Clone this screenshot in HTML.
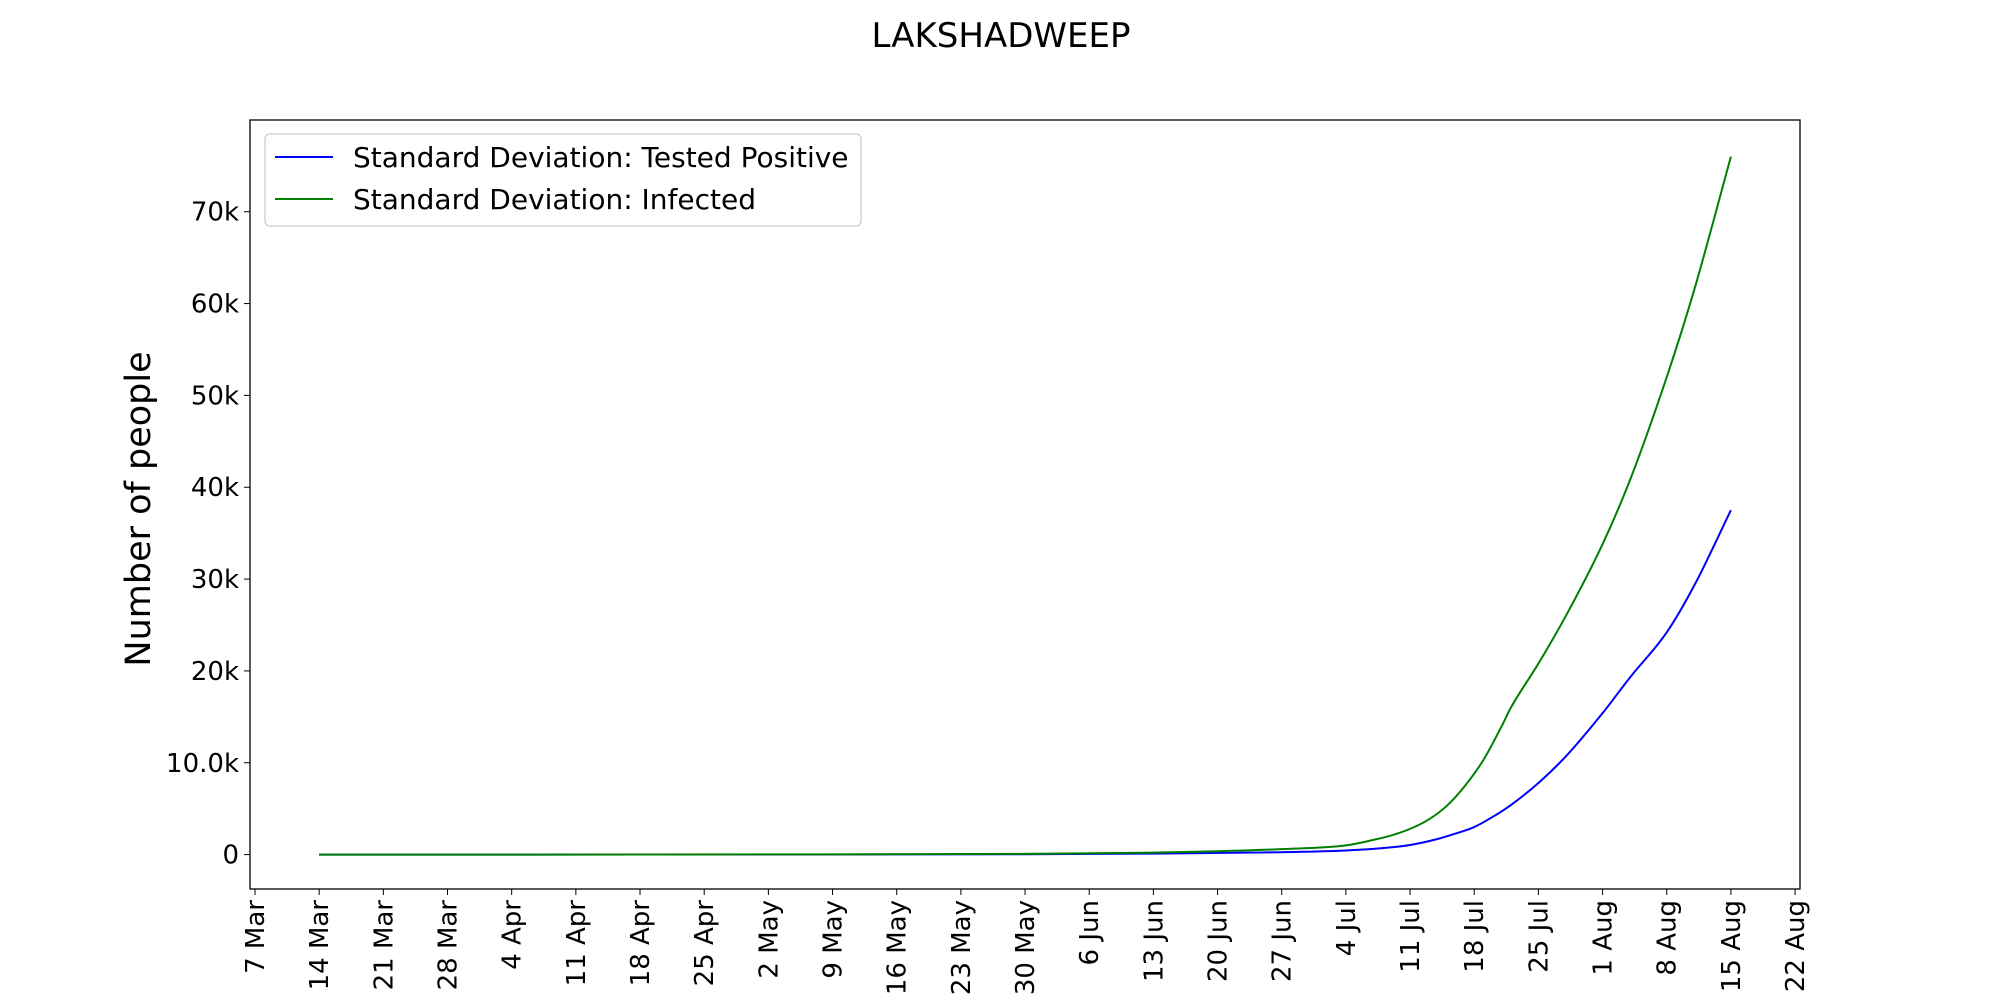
<!DOCTYPE html>
<html><head><meta charset="utf-8"><style>
body{margin:0;background:#fff;}
svg{display:block;font-family:"DejaVu Sans","Liberation Sans",sans-serif;}
</style></head><body>
<svg id="chart" width="2000" height="1000">
<text x="1001" y="47" font-size="34" text-anchor="middle">LAKSHADWEEP</text>
<text transform="translate(150,509) rotate(-90)" font-size="35" text-anchor="middle">Number of people</text>
<g id="ticks"></g>
<g id="lines"></g>
<rect x="250" y="120" width="1550" height="769" fill="none" stroke="#000" stroke-width="1.3"/>
<g>
<rect x="265" y="134" width="596" height="92" rx="5" fill="#fff" stroke="#ccc" stroke-width="1.3"/>
<line x1="275" y1="157" x2="333" y2="157" stroke="#0000ff" stroke-width="2"/>
<text x="353" y="167" font-size="28">Standard Deviation: Tested Positive</text>
<line x1="275" y1="199" x2="333" y2="199" stroke="#008000" stroke-width="2"/>
<text x="353" y="209" font-size="28">Standard Deviation: Infected</text>
</g>
</svg>
<script>
const testedDates = ["2020-03-14","2020-04-04","2020-05-02","2020-05-30","2020-06-13","2020-06-27","2020-07-04","2020-07-08","2020-07-11","2020-07-14","2020-07-16","2020-07-18","2020-07-20","2020-07-22","2020-07-25","2020-07-28","2020-08-01","2020-08-04","2020-08-08","2020-08-11","2020-08-15"];
const testedValues = [0,0,10,40,110,260,450,700,1050,1700,2300,3000,4100,5400,7800,10700,15400,19300,24200,29300,37500];
const infectedDates = ["2020-03-14","2020-04-04","2020-05-02","2020-05-30","2020-06-13","2020-06-20","2020-06-27","2020-07-04","2020-07-07","2020-07-09","2020-07-11","2020-07-13","2020-07-15","2020-07-17","2020-07-19","2020-07-21","2020-07-22","2020-07-25","2020-07-28","2020-08-01","2020-08-04","2020-08-08","2020-08-11","2020-08-15"];
const infectedValues = [0,0,20,80,210,360,600,1000,1600,2100,2800,3800,5300,7500,10300,14000,16000,20800,26000,33800,40800,52000,61500,76000];
const yTicks = [0,10000,20000,30000,40000,50000,60000,70000];
const yTickLabels = ["0","10.0k","20k","30k","40k","50k","60k","70k"];
const xTickLabels = ["7 Mar","14 Mar","21 Mar","28 Mar","4 Apr","11 Apr","18 Apr","25 Apr","2 May","9 May","16 May","23 May","30 May","6 Jun","13 Jun","20 Jun","27 Jun","4 Jul","11 Jul","18 Jul","25 Jul","1 Aug","8 Aug","15 Aug","22 Aug"];

const NS="http://www.w3.org/2000/svg";
const t0=Date.UTC(2020,2,7), DAY=86400000, WEEK=64.17;
function xScale(d){const days=(Date.parse(d+"T00:00:00Z")-t0)/DAY;return 255+days*(WEEK/7);}
function yScale(v){return 854.6-v*(91.84/10000);}
const tg=document.getElementById('ticks');
yTicks.forEach((v,i)=>{
  const y=yScale(v);
  const l=document.createElementNS(NS,'line');
  l.setAttribute('x1',244);l.setAttribute('x2',250);l.setAttribute('y1',y);l.setAttribute('y2',y);l.setAttribute('stroke','#000');
  
  
  tg.appendChild(l);
  const t=document.createElementNS(NS,'text');
  t.setAttribute('x',239);t.setAttribute('y',y+9);t.setAttribute('font-size','26');t.setAttribute('text-anchor','end');
  t.textContent=yTickLabels[i];
  
  
  tg.appendChild(t);
});
xTickLabels.forEach((lab,i)=>{
  const x=255+i*WEEK;
  const l=document.createElementNS(NS,'line');
  l.setAttribute('x1',x);l.setAttribute('x2',x);l.setAttribute('y1',889);l.setAttribute('y2',895);l.setAttribute('stroke','#000');
  
  
  tg.appendChild(l);
  const t=document.createElementNS(NS,'text');
  t.setAttribute('transform',`translate(${x+9},900) rotate(-90)`);
  t.setAttribute('font-size','26');t.setAttribute('text-anchor','end');
  t.textContent=lab;
  
  
  tg.appendChild(t);
});
function monotonePath(pts){
  const n=pts.length, dx=[], m=[], t=[];
  for(let i=0;i<n-1;i++){dx[i]=pts[i+1][0]-pts[i][0];m[i]=(pts[i+1][1]-pts[i][1])/dx[i];}
  t[0]=m[0];t[n-1]=m[n-2];
  for(let i=1;i<n-1;i++){t[i]=(m[i-1]*m[i]<=0)?0:(m[i-1]+m[i])/2;}
  for(let i=0;i<n-1;i++){
    if(m[i]===0){t[i]=0;t[i+1]=0;continue;}
    const a=t[i]/m[i],b=t[i+1]/m[i],s=a*a+b*b;
    if(s>9){const k=3/Math.sqrt(s);t[i]=k*a*m[i];t[i+1]=k*b*m[i];}
  }
  let d=`M${pts[0][0]},${pts[0][1]}`;
  for(let i=0;i<n-1;i++){
    const h=dx[i]/3;
    d+=` C${pts[i][0]+h},${pts[i][1]+t[i]*h} ${pts[i+1][0]-h},${pts[i+1][1]-t[i+1]*h} ${pts[i+1][0]},${pts[i+1][1]}`;
  }
  return d;
}
const lg=document.getElementById('lines');
[[testedDates,testedValues,'#0000ff','line-tested-positive'],[infectedDates,infectedValues,'#008000','line-infected']].forEach(([ds,vals,col,name])=>{
  const pts=ds.map((d,i)=>[xScale(d),yScale(vals[i])]);
  const p=document.createElementNS(NS,'path');
  p.setAttribute('d',monotonePath(pts));
  p.setAttribute('fill','none');p.setAttribute('stroke',col);p.setAttribute('stroke-width','2');
  
  
  lg.appendChild(p);
});
</script>
</body></html>
